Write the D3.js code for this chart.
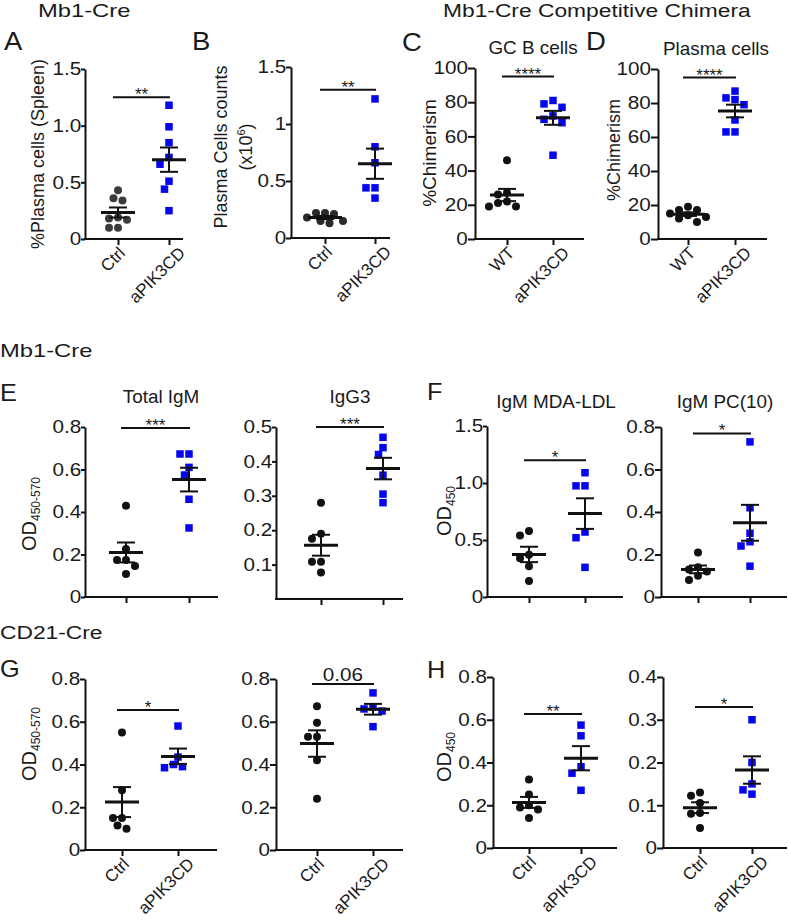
<!DOCTYPE html>
<html><head><meta charset="utf-8">
<script src="https://cdn.jsdelivr.net/npm/d3@7"></script>
<style>
body{margin:0;background:#fff}
text{font-family:"Liberation Sans",Arial,Helvetica,sans-serif;fill:#1a1a1a}
</style>
</head><body>
<svg id="chart" width="788" height="920"></svg>
<script>
// ---------- DATA ----------
const groupsCtrl = ["Ctrl", "aPIK3CD"];
const groupsWT = ["WT", "aPIK3CD"];

const aCtrl = [0.43, 0.34, 0.36, 0.17, 0.19, 0.18, 0.10, 0.10];
const aPik  = [1.18, 0.99, 0.85, 0.72, 0.66, 0.51, 0.44, 0.25];
const bCtrl = [0.22, 0.21, 0.22, 0.15, 0.13, 0.15, 0.18];
const bPik  = [1.22, 0.80, 0.66, 0.44, 0.44, 0.35];
const cWT   = [46, 27, 26, 22, 21, 19, 19];
const cPik  = [81, 79, 77, 70, 68, 72, 49];
const dWT   = [19, 17, 17, 14, 15, 13, 10, 12];
const dPik  = [87, 83, 82, 79, 70, 63, 63];
const e1Ctrl = [0.43, 0.226, 0.174, 0.174, 0.146, 0.108];
const e1Pik  = [0.673, 0.673, 0.61, 0.574, 0.46, 0.325];
const e2Ctrl = [0.28, 0.175, 0.19, 0.108, 0.108, 0.077];
const e2Pik  = [0.47, 0.44, 0.42, 0.36, 0.305, 0.28];
const f1Ctrl = [0.58, 0.54, 0.37, 0.34, 0.27, 0.14];
const f1Pik  = [1.09, 0.975, 0.975, 0.57, 0.52, 0.26];
const f2Ctrl = [0.21, 0.14, 0.13, 0.12, 0.10, 0.08];
const f2Pik  = [0.73, 0.42, 0.30, 0.26, 0.24, 0.145];
const g1Ctrl = [0.55, 0.28, 0.15, 0.15, 0.10, 0.115];
const g1Pik  = [0.58, 0.435, 0.40, 0.385, 0.39];
const g2Ctrl = [0.673, 0.595, 0.53, 0.53, 0.42, 0.24];
const g2Pik  = [0.735, 0.67, 0.66, 0.65, 0.577];
const h1Ctrl = [0.32, 0.25, 0.20, 0.19, 0.18, 0.14];
const h1Pik  = [0.575, 0.525, 0.38, 0.35, 0.27];
const h2Ctrl = [0.13, 0.122, 0.105, 0.08, 0.082, 0.047];
const h2Pik  = [0.30, 0.20, 0.15, 0.136, 0.126];

const ticks15 = [0, 0.5, 1.0, 1.5];
const tickLabels15 = ["0", "0.5", "1.0", "1.5"];
const tickLabels15b = ["0", "0.5", "1", "1.5"];
const ticks100 = [0, 20, 40, 60, 80, 100];
const tickLabels100 = ["0", "20", "40", "60", "80", "100"];
const ticks08 = [0, 0.2, 0.4, 0.6, 0.8];
const tickLabels08 = ["0", "0.2", "0.4", "0.6", "0.8"];
const ticks05 = [0.1, 0.2, 0.3, 0.4, 0.5];
const tickLabels05 = ["0.1", "0.2", "0.3", "0.4", "0.5"];
const ticks04 = [0, 0.1, 0.2, 0.3, 0.4];
const tickLabels04 = ["0", "0.1", "0.2", "0.3", "0.4"];

const sigLabels = ["**", "**", "****", "****", "***", "***", "*", "*", "*", "0.06", "**", "*"];
const sigLevels = [1.25, 1.30, 95, 95, 0.795, 0.50, 1.20, 0.77, 0.655, 0.777, 0.627, 0.33];

// ---------- LAYOUT ----------
const BLUE = "#0606ee";
const panels = [
  {ax:85,  right:183, top:69,  bottom:239, tk:4, xs:[118,169], dom:[0,1.5], ticks:ticks15, tl:tickLabels15, groups:groupsCtrl, d:[aCtrl,aPik], ctrlColor:"#3c3c3c", xlab:true},
  {ax:291, right:390, top:67,  bottom:238, tk:5, xs:[325,375], dom:[0,1.5], ticks:ticks15, tl:tickLabels15b, groups:groupsCtrl, d:[bCtrl,bPik], ctrlColor:"#2a2a2a", xlab:true},
  {ax:475, right:584, top:68,  bottom:239, tk:7, xs:[507,553], dom:[0,100], ticks:ticks100, tl:tickLabels100, groups:groupsWT, d:[cWT,cPik], xlab:true, title:"GC B cells", tx:533, ty:54},
  {ax:658, right:767, top:69,  bottom:239, tk:7, xs:[688,735], dom:[0,100], ticks:ticks100, tl:tickLabels100, groups:groupsWT, d:[dWT,dPik], xlab:true, title:"Plasma cells", tx:716, ty:55},
  {ax:85,  right:218, top:427, bottom:597, tk:4, xs:[126,189], dom:[0,0.8], ticks:ticks08, tl:tickLabels08, groups:groupsCtrl, d:[e1Ctrl,e1Pik], title:"Total IgM", tx:161, ty:403},
  {ax:276, right:403, top:427, bottom:599, tk:4, xs:[321,383], dom:[0,0.5], ticks:ticks05, tl:tickLabels05, groups:groupsCtrl, d:[e2Ctrl,e2Pik], title:"IgG3", tx:350, ty:403},
  {ax:487, right:623, top:426, bottom:597, tk:4, xs:[529,585], dom:[0,1.5], ticks:ticks15, tl:tickLabels15, groups:groupsCtrl, d:[f1Ctrl,f1Pik], title:"IgM MDA-LDL", tx:556, ty:408},
  {ax:661, right:787, top:427, bottom:597, tk:6, xs:[698,750], dom:[0,0.8], ticks:ticks08, tl:tickLabels08, groups:groupsCtrl, d:[f2Ctrl,f2Pik], title:"IgM PC(10)", tx:725, ty:408},
  {ax:85,  right:217, top:679, bottom:850, tk:5, xs:[122,178], dom:[0,0.8], ticks:ticks08, tl:tickLabels08, groups:groupsCtrl, d:[g1Ctrl,g1Pik], xlab:true},
  {ax:276, right:403, top:679, bottom:850, tk:6, xs:[317,373], dom:[0,0.8], ticks:ticks08, tl:tickLabels08, groups:groupsCtrl, d:[g2Ctrl,g2Pik], xlab:true},
  {ax:493, right:617, top:677, bottom:848, tk:6, xs:[529,581], dom:[0,0.8], ticks:ticks08, tl:tickLabels08, groups:groupsCtrl, d:[h1Ctrl,h1Pik], xlab:true},
  {ax:663, right:787, top:677, bottom:848, tk:6, xs:[700,752], dom:[0,0.4], ticks:ticks04, tl:tickLabels04, groups:groupsCtrl, d:[h2Ctrl,h2Pik], xlab:true}
];

const svg = d3.select("#chart");
const SX = 1.15;

function htext(x, y, str, size, anchor, sx) {
  const g = svg.append("g").attr("transform", `translate(${x},${y}) scale(${sx||1},1)`);
  return g.append("text").attr("text-anchor", anchor || "start").attr("font-size", size).text(str);
}

// headers and panel letters
htext(38, 17, "Mb1-Cre", 19, "start", 1.25);
htext(443, 17, "Mb1-Cre Competitive Chimera", 19, "start", 1.2);
htext(0, 357, "Mb1-Cre", 19, "start", 1.25);
htext(0, 639, "CD21-Cre", 19, "start", 1.2);
[["A",4,50,25],["B",192,50,25],["C",402,51,25],["D",586,50,25],
 ["E",0,401,23],["F",427,400,23],["G",0,677,23],["H",427,678,23]]
 .forEach(([t,x,y,s]) => htext(x, y, t, s, "start", 1.1));

// simple beeswarm offsets so overlapping points spread sideways
function swarm(vals, y, r) {
  const order = d3.range(vals.length).sort((a, b) => vals[b] - vals[a]);
  const placed = [];
  const off = new Array(vals.length).fill(0);
  const cands = [0, -1, 1, -2, 2, -3, 3, -4, 4, -5, 5].map(k => k * 4.5);
  for (const i of order) {
    const py = y(vals[i]);
    for (const c of cands) {
      if (placed.every(p => (p.x - c) ** 2 + (p.y - py) ** 2 >= (2 * r + 0.2) ** 2)) {
        off[i] = c; placed.push({x: c, y: py}); break;
      }
    }
  }
  return off;
}

panels.forEach((p, pi) => {
  const y = d3.scaleLinear().domain(p.dom).range([p.bottom, p.top]);
  const x = d3.scalePoint().domain(p.groups).range(p.xs);
  const g = svg.append("g");

  // y axis
  const yAxis = d3.axisLeft(y).tickValues(p.ticks).tickFormat((d, i) => p.tl[i])
    .tickSize(p.tk).tickSizeOuter(0).tickPadding(-0.8);
  const ya = g.append("g").attr("transform", `translate(${p.ax},0)`).call(yAxis);
  ya.attr("font-family", null);
  ya.select(".domain").attr("stroke", "#111").attr("stroke-width", 2);
  ya.selectAll(".tick line").attr("stroke", "#111").attr("stroke-width", 2);
  ya.selectAll(".tick text").attr("font-size", 18).attr("fill", "#1a1a1a")
    .attr("transform", `scale(${SX},1)`);

  // x axis line + ticks
  g.append("line").attr("x1", p.ax - 1).attr("x2", p.right).attr("y1", p.bottom).attr("y2", p.bottom)
    .attr("stroke", "#111").attr("stroke-width", 2);
  const xAxis = d3.axisBottom(x).tickSize(6).tickSizeOuter(0).tickFormat("");
  const xa = g.append("g").attr("transform", `translate(0,${p.bottom})`).call(xAxis);
  xa.select(".domain").remove();
  xa.selectAll(".tick line").attr("stroke", "#111").attr("stroke-width", 2);

  if (p.xlab) {
    p.groups.forEach(gr => {
      const t = g.append("text").attr("font-size", 17).attr("text-anchor", "end").text(gr);
      const L = t.node().getComputedTextLength();
      const dx = 3 + 0.2 * L;
      t.attr("transform", `translate(${x(gr) + dx},${p.bottom + 15}) rotate(-45)`);
    });
  }

  // points, mean and SEM
  p.groups.forEach((gr, gi) => {
    const vals = p.d[gi];
    const offs = swarm(vals, y, 4);
    if (gi === 0) {
      g.selectAll(null).data(vals).enter().append("circle")
        .attr("cx", (d, i) => x(gr) + offs[i]).attr("cy", d => y(d)).attr("r", 4)
        .attr("fill", p.ctrlColor || "#111");
    } else {
      const s = 7.5;
      g.selectAll(null).data(vals).enter().append("rect")
        .attr("x", (d, i) => x(gr) + offs[i] - s / 2).attr("y", d => y(d) - s / 2)
        .attr("width", s).attr("height", s).attr("fill", BLUE);
    }
    const m = d3.mean(vals);
    const sem = d3.deviation(vals) / Math.sqrt(vals.length);
    const cx = x(gr);
    g.append("line").attr("x1", cx).attr("x2", cx).attr("y1", y(m + sem)).attr("y2", y(m - sem))
      .attr("stroke", "#111").attr("stroke-width", 2);
    [m + sem, m - sem].forEach(v => g.append("line").attr("x1", cx - 9).attr("x2", cx + 9)
      .attr("y1", y(v)).attr("y2", y(v)).attr("stroke", "#111").attr("stroke-width", 2));
    g.append("line").attr("x1", cx - 17).attr("x2", cx + 17).attr("y1", y(m)).attr("y2", y(m))
      .attr("stroke", "#111").attr("stroke-width", 3);
  });

  // significance bar
  const by = y(sigLevels[pi]);
  const bx0 = p.xs[0] - 5, bx1 = p.xs[1] + 1;
  g.append("line").attr("x1", bx0).attr("x2", bx1).attr("y1", by).attr("y2", by)
    .attr("stroke", "#111").attr("stroke-width", 2);
  const lab = sigLabels[pi];
  if (lab.startsWith("*")) {
    g.append("text").attr("x", (bx0 + bx1) / 2).attr("y", by + 3).attr("text-anchor", "middle")
      .attr("font-size", 17).text(lab);
  } else {
    htext((bx0 + bx1) / 2, by - 3, lab, 18, "middle", SX);
  }

  if (p.title) htext(p.tx, p.ty, p.title, 18, "middle", 1.05);
});

// y-axis labels (rotated)
function vlabel(x, y, parts) {
  const t = svg.append("text").attr("transform", `translate(${x},${y}) rotate(-90)`)
    .attr("text-anchor", "middle");
  parts.forEach(([s, size, dy]) => t.append("tspan").attr("font-size", size).attr("dy", dy || 0).text(s));
  return t;
}
vlabel(44, 154, [["%Plasma cells (Spleen)", 18]]);
vlabel(227, 147, [["Plasma Cells counts", 18]]);
vlabel(252, 147, [["(x10", 18], ["6", 11, -7], [")", 18, 7]]);
vlabel(436, 153, [["%Chimerism", 19]]);
vlabel(620, 150, [["%Chimerism", 18]]);
vlabel(36, 514, [["OD", 20], ["450-570", 12, 4]]);
vlabel(451, 511, [["OD", 20], ["450", 12, 4]]);
vlabel(36, 744, [["OD", 20], ["450-570", 12, 4]]);
vlabel(451, 757, [["OD", 20], ["450", 12, 4]]);
</script>
</body></html>
